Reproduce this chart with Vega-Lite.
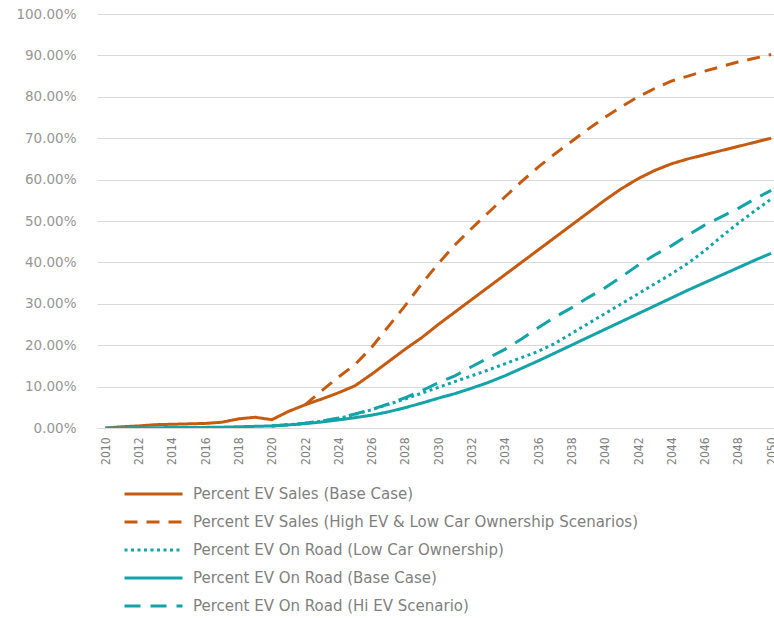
{
  "$schema": "https://vega.github.io/schema/vega-lite/v6.json",
  "width": 677,
  "height": 414,
  "autosize": "none",
  "padding": {"left": 97, "top": 14, "right": 0, "bottom": 190},
  "background": "white",
  "config": {
    "view": {"stroke": null},
    "font": "DejaVu Sans"
  },
  "data": {
    "values": [
      {"year": 2010, "sales_base": 0.0, "road_base": 0.0},
      {"year": 2011, "sales_base": 0.3, "road_base": 0.02},
      {"year": 2012, "sales_base": 0.5, "road_base": 0.05},
      {"year": 2013, "sales_base": 0.8, "road_base": 0.08},
      {"year": 2014, "sales_base": 0.9, "road_base": 0.1},
      {"year": 2015, "sales_base": 1.0, "road_base": 0.12},
      {"year": 2016, "sales_base": 1.1, "road_base": 0.15},
      {"year": 2017, "sales_base": 1.4, "road_base": 0.2},
      {"year": 2018, "sales_base": 2.2, "road_base": 0.3},
      {"year": 2019, "sales_base": 2.6, "road_base": 0.4},
      {"year": 2020, "sales_base": 2.0, "road_base": 0.5, "road_low": 0.5, "road_hi": 0.5},
      {"year": 2021, "sales_base": 4.0, "road_base": 0.75, "road_low": 0.8, "road_hi": 0.8},
      {"year": 2022, "sales_base": 5.6, "sales_high": 5.6, "road_base": 1.05, "road_low": 1.15, "road_hi": 1.15},
      {"year": 2023, "sales_base": 7.0, "sales_high": 9.0, "road_base": 1.45, "road_low": 1.65, "road_hi": 1.7},
      {"year": 2024, "sales_base": 8.5, "sales_high": 12.3, "road_base": 1.95, "road_low": 2.3, "road_hi": 2.4},
      {"year": 2025, "sales_base": 10.2, "sales_high": 15.3, "road_base": 2.5, "road_low": 3.3, "road_hi": 3.4},
      {"year": 2026, "sales_base": 13.0, "sales_high": 19.5, "road_base": 3.1, "road_low": 4.4, "road_hi": 4.5},
      {"year": 2027, "sales_base": 16.0, "sales_high": 24.5, "road_base": 3.9, "road_low": 5.7, "road_hi": 5.8},
      {"year": 2028, "sales_base": 19.0, "sales_high": 29.5, "road_base": 4.9, "road_low": 7.0, "road_hi": 7.3},
      {"year": 2029, "sales_base": 21.8, "sales_high": 34.8, "road_base": 6.0, "road_low": 8.4, "road_hi": 9.0},
      {"year": 2030, "sales_base": 25.0, "sales_high": 39.7, "road_base": 7.2, "road_low": 9.8, "road_hi": 10.9},
      {"year": 2031, "sales_base": 28.0, "sales_high": 44.2, "road_base": 8.3, "road_low": 11.2, "road_hi": 12.6},
      {"year": 2032, "sales_base": 31.0, "sales_high": 48.2, "road_base": 9.6, "road_low": 12.6, "road_hi": 14.8},
      {"year": 2033, "sales_base": 34.0, "sales_high": 52.0, "road_base": 11.0, "road_low": 14.0, "road_hi": 16.9},
      {"year": 2034, "sales_base": 37.0, "sales_high": 55.8, "road_base": 12.6, "road_low": 15.5, "road_hi": 19.0},
      {"year": 2035, "sales_base": 40.0, "sales_high": 59.5, "road_base": 14.4, "road_low": 17.0, "road_hi": 21.5},
      {"year": 2036, "sales_base": 43.0, "sales_high": 63.0, "road_base": 16.2, "road_low": 18.5, "road_hi": 24.2},
      {"year": 2037, "sales_base": 46.0, "sales_high": 66.2, "road_base": 18.1, "road_low": 20.4, "road_hi": 26.8},
      {"year": 2038, "sales_base": 49.0, "sales_high": 69.2, "road_base": 20.0, "road_low": 22.8, "road_hi": 29.0},
      {"year": 2039, "sales_base": 52.0, "sales_high": 72.2, "road_base": 21.9, "road_low": 25.2, "road_hi": 31.5},
      {"year": 2040, "sales_base": 55.0, "sales_high": 75.0, "road_base": 23.8, "road_low": 27.6, "road_hi": 33.8},
      {"year": 2041, "sales_base": 57.8, "sales_high": 77.6, "road_base": 25.7, "road_low": 30.0, "road_hi": 36.5},
      {"year": 2042, "sales_base": 60.2, "sales_high": 80.0, "road_base": 27.6, "road_low": 32.4, "road_hi": 39.3},
      {"year": 2043, "sales_base": 62.2, "sales_high": 82.0, "road_base": 29.5, "road_low": 34.8, "road_hi": 41.8},
      {"year": 2044, "sales_base": 63.8, "sales_high": 83.8, "road_base": 31.4, "road_low": 37.2, "road_hi": 44.0},
      {"year": 2045, "sales_base": 65.0, "sales_high": 85.0, "road_base": 33.3, "road_low": 39.8, "road_hi": 46.6},
      {"year": 2046, "sales_base": 66.0, "sales_high": 86.2, "road_base": 35.1, "road_low": 42.8, "road_hi": 49.0},
      {"year": 2047, "sales_base": 67.0, "sales_high": 87.3, "road_base": 36.9, "road_low": 46.2, "road_hi": 51.0},
      {"year": 2048, "sales_base": 68.0, "sales_high": 88.4, "road_base": 38.7, "road_low": 49.4, "road_hi": 53.0},
      {"year": 2049, "sales_base": 69.0, "sales_high": 89.3, "road_base": 40.5, "road_low": 52.4, "road_hi": 55.3},
      {"year": 2050, "sales_base": 70.0, "sales_high": 90.2, "road_base": 42.2, "road_low": 55.3, "road_hi": 57.4}
    ]
  },
  "transform": [
    {"fold": ["sales_base", "sales_high", "road_low", "road_base", "road_hi"], "as": ["series", "pct"]}
  ],
  "mark": {"type": "line", "strokeWidth": 3, "clip": true},
  "encoding": {
    "x": {
      "field": "year",
      "type": "quantitative",
      "scale": {"domain": [2009.5, 2050.17], "nice": false, "zero": false},
      "axis": {
        "title": null,
        "values": [2010, 2012, 2014, 2016, 2018, 2020, 2022, 2024, 2026, 2028, 2030, 2032, 2034, 2036, 2038, 2040, 2042, 2044, 2046, 2048, 2050],
        "format": "d",
        "labelAngle": -90,
        "labelPadding": 9,
        "labelFont": "Liberation Sans Narrow, DejaVu Sans Condensed, sans-serif",
        "labelFontSize": 12,
        "labelColor": "#808080",
        "ticks": false,
        "grid": false,
        "domain": true,
        "domainColor": "#d9d9d9",
        "labelOverlap": false,
        "labelBound": false,
        "labelFlush": false
      }
    },
    "y": {
      "field": "pct",
      "type": "quantitative",
      "scale": {"domain": [0, 100], "nice": false},
      "axis": {
        "title": null,
        "values": [0, 10, 20, 30, 40, 50, 60, 70, 80, 90, 100],
        "labelExpr": "format(datum.value, '.2f') + '%'",
        "labelFont": "DejaVu Sans",
        "labelFontSize": 13.5,
        "labelColor": "#969696",
        "labelPadding": 21,
        "ticks": false,
        "domain": false,
        "grid": true,
        "gridColor": "#d9d9d9",
        "gridWidth": 1
      }
    },
    "color": {
      "field": "series",
      "type": "nominal",
      "scale": {
        "domain": ["sales_base", "sales_high", "road_low", "road_base", "road_hi"],
        "range": ["#C55A11", "#C55A11", "#13A3A8", "#13A3A8", "#13A3A8"]
      },
      "legend": {
        "title": null,
        "orient": "none",
        "legendX": 26,
        "legendY": 472,
        "direction": "vertical",
        "symbolType": "stroke",
        "symbolSize": 3364,
        "symbolStrokeWidth": 3,
        "clipHeight": 16,
        "labelFont": "DejaVu Sans",
        "labelFontSize": 15,
        "labelColor": "#7f7f7f",
        "labelOffset": 9,
        "rowPadding": 12,
        "labelLimit": 600,
        "labelExpr": "datum.value === 'sales_base' ? 'Percent EV Sales (Base Case)' : datum.value === 'sales_high' ? 'Percent EV Sales (High EV & Low Car Ownership Scenarios)' : datum.value === 'road_low' ? 'Percent EV On Road (Low Car Ownership)' : datum.value === 'road_base' ? 'Percent EV On Road (Base Case)' : 'Percent EV On Road (Hi EV Scenario)'"
      }
    },
    "strokeDash": {
      "field": "series",
      "type": "nominal",
      "scale": {
        "domain": ["sales_base", "sales_high", "road_low", "road_base", "road_hi"],
        "range": [[1, 0], [13, 9], [3, 3.5], [1, 0], [16, 10]]
      },
      "legend": null
    }
  }
}
